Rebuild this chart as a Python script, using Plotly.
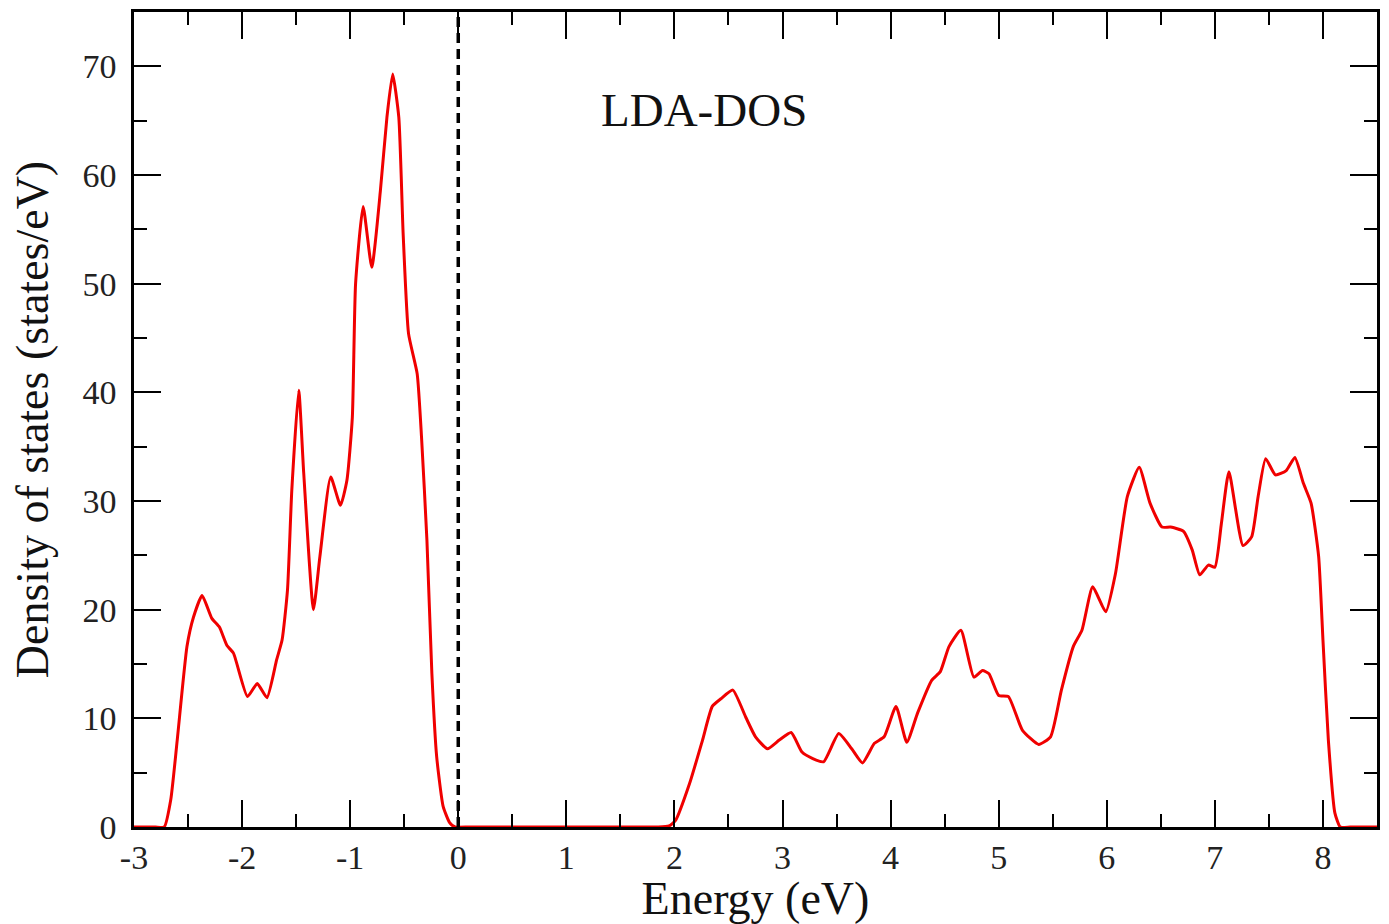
import plotly.graph_objects as go

# Valence band (energy in eV, DOS in states/eV)
energy_vb = [-3.0, -2.9, -2.8, -2.72, -2.66, -2.60, -2.51, -2.45, -2.37, -2.28, -2.21, -2.14, -2.08,
             -1.95, -1.86, -1.77, -1.68, -1.63, -1.58, -1.54, -1.476, -1.43, -1.34, -1.28,
             -1.18, -1.09, -1.03, -0.98, -0.95, -0.88, -0.80, -0.72, -0.66, -0.607, -0.55,
             -0.51, -0.46, -0.38, -0.34, -0.29, -0.244, -0.20, -0.14, -0.08, -0.03]
dos_vb = [0.0, 0.0, 0.0, 0.0, 2.5, 8.0, 16.6, 19.3, 21.3, 19.2, 18.4, 16.7, 16.0,
          12.0, 13.2, 11.9, 15.4, 17.2, 21.8, 31.0, 40.2, 32.6, 20.0, 24.9,
          32.2, 29.6, 31.9, 37.7, 50.0, 57.1, 51.5, 58.6, 65.3, 69.3, 65.3,
          54.6, 45.4, 41.7, 35.9, 26.4, 14.1, 6.5, 1.9, 0.4, 0.0]

# Gap + conduction band
energy_cb = [-0.03, 0.1, 0.4, 0.8, 1.2, 1.6, 1.85, 1.95, 2.01, 2.14, 2.26, 2.35, 2.43, 2.54, 2.66,
             2.75, 2.86, 2.97, 3.08, 3.18, 3.28, 3.38, 3.52, 3.64, 3.74, 3.85, 3.94, 4.05,
             4.15, 4.25, 4.38, 4.46, 4.54, 4.65, 4.77, 4.85, 4.91, 5.00, 5.09, 5.22, 5.37,
             5.48, 5.58, 5.69, 5.77, 5.87, 5.99, 6.08, 6.19, 6.30, 6.40, 6.51, 6.59, 6.71,
             6.79, 6.86, 6.94, 7.00, 7.06, 7.13, 7.26, 7.34, 7.40, 7.47, 7.56, 7.66,
             7.74, 7.82, 7.89, 7.96, 8.00, 8.05, 8.11, 8.16, 8.25, 8.35, 8.5]
dos_cb = [0.0, 0.0, 0.0, 0.0, 0.0, 0.0, 0.0, 0.1, 0.6, 4.0, 8.0, 11.1, 11.8, 12.6, 10.1,
          8.3, 7.2, 8.0, 8.7, 6.9, 6.3, 6.0, 8.6, 7.2, 5.9, 7.7, 8.3, 11.1,
          7.8, 10.5, 13.5, 14.3, 16.6, 18.1, 13.8, 14.4, 14.1, 12.1, 12.0, 8.9, 7.6,
          8.3, 12.6, 16.6, 18.1, 22.1, 19.8, 23.3, 30.4, 33.1, 29.8, 27.6, 27.6, 27.2,
          25.5, 23.2, 24.1, 23.9, 27.9, 32.7, 25.9, 26.7, 30.4, 33.9, 32.4, 32.8,
          34.0, 31.6, 29.8, 24.9, 17.2, 8.0, 1.3, 0.0, 0.0, 0.0, 0.0]

energy = energy_vb + energy_cb[1:]
dos = dos_vb + dos_cb[1:]

fermi_x = [0, 0]
fermi_y = [0, 75]

x_ticks = [-3, -2, -1, 0, 1, 2, 3, 4, 5, 6, 7, 8]
y_ticks = [0, 10, 20, 30, 40, 50, 60, 70]

FONT = "Liberation Serif"

fig = go.Figure()
fig.add_trace(go.Scatter(x=energy, y=dos, mode="lines",
                         line=dict(color="#f00000", width=3, shape="spline", smoothing=0.5),
                         showlegend=False, hoverinfo="skip"))
fig.add_trace(go.Scatter(x=fermi_x, y=fermi_y, mode="lines",
                         line=dict(color="black", width=3.5, dash="10px,6px"),
                         showlegend=False, hoverinfo="skip"))

axis_common = dict(showgrid=False, zeroline=False, showline=True, linecolor="black",
                   linewidth=2.5, mirror="allticks", ticks="inside", tickcolor="black",
                   tickwidth=2, ticklen=27,
                   tickfont=dict(family=FONT, size=34, color="#222"))

fig.update_xaxes(range=[-3, 8.5], tickvals=x_ticks, ticktext=[str(v) for v in x_ticks],
                 minor=dict(dtick=0.5, tick0=0, ticks="inside", ticklen=13, tickwidth=2,
                            tickcolor="black"),
                 title=dict(text="Energy (eV)", font=dict(family=FONT, size=46, color="#111"),
                            standoff=0),
                 ticklabelstandoff=-2,
                 **axis_common)
fig.update_yaxes(range=[0, 75], tickvals=y_ticks, ticktext=[str(v) for v in y_ticks],
                 minor=dict(dtick=5, tick0=0, ticks="inside", ticklen=13, tickwidth=2,
                            tickcolor="black"),
                 title=dict(text="Density of states (states/eV)",
                            font=dict(family=FONT, size=46, color="#111"), standoff=20),
                 ticklabelstandoff=8,
                 **axis_common)

fig.add_annotation(x=1.3, y=66, xref="x", yref="y", text="LDA-DOS", showarrow=False,
                   xanchor="left", yanchor="middle",
                   font=dict(family=FONT, size=47, color="#111"))

fig.update_layout(width=1389, height=924, margin=dict(l=134, r=9, t=12, b=97),
                  plot_bgcolor="white", paper_bgcolor="white")

fig.write_html("out.html")
